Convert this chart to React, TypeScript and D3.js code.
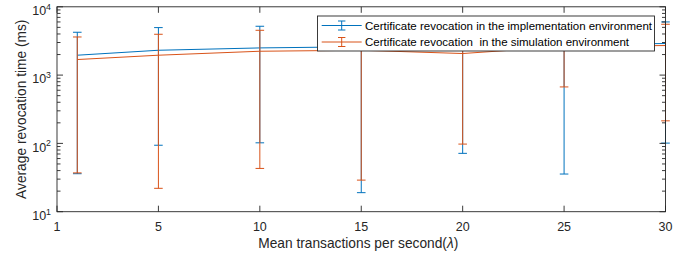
import React from "react";
import * as d3 from "d3";

const xValues = [1, 5, 10, 15, 20, 25, 30];
const xTickValues = [0, 5, 10, 15, 20, 25, 30];
const xTickLabels = ["1", "5", "10", "15", "20", "25", "30"];
const yTickExponents = [1, 2, 3, 4];

const implMean = [1955, 2310, 2500, 2600, 2750, 2800, 2900];
const implLower = [36, 94, 102, 19, 71.5, 35.6, 101];
const implUpper = [4240, 4960, 5190, 4800, 4600, 5000, 6000];

const simMean = [1690, 1955, 2235, 2310, 2070, 2620, 2710];
const simLower = [37, 22, 43, 29, 97.7, 671, 214];
const simUpper = [3615, 3960, 4530, 4400, 4000, 4500, 5550];

const seriesNames = [
  "Certificate revocation in the implementation environment",
  "Certificate revocation  in the simulation environment",
];
const colors = ["#0072BD", "#D95319"];

const W = 681;
const H = 257;
const left = 57;
const right = 665.5;
const top = 6.8;
const bottom = 211.7;
const axisColor = "#262626";
const font = "'Liberation Sans', Arial, Helvetica, sans-serif";

export default function App() {
  const x = d3.scaleLinear().domain([0, 30]).range([left, right]);
  const y = d3.scaleLog().domain([10, 10000]).range([bottom, top]);

  const series = [
    { mean: implMean, lo: implLower, hi: implUpper, color: colors[0] },
    { mean: simMean, lo: simLower, hi: simUpper, color: colors[1] },
  ];

  const line = d3
    .line<number>()
    .x((_, i) => x(xValues[i]))
    .y((d) => y(d));

  const minorTicks: number[] = [];
  for (let e = 1; e < 4; e++) {
    for (let m = 2; m <= 9; m++) minorTicks.push(m * Math.pow(10, e));
  }

  const capHalf = 4.3;
  const majorLen = 6;
  const minorLen = 3.5;

  const legX = 317.5;
  const legY = 16;
  const legW = 337;
  const legH = 35;
  const rowY = [25.5, 42];

  return (
    <div style={{ position: "absolute", left: 0, top: 0 }}>
      <svg width={W} height={H} style={{ display: "block", background: "#fff" }}>
        <rect x={0} y={0} width={W} height={H} fill="#fff" />
        {series.map((s, si) => (
          <g key={si}>
            <path d={line(s.mean) || ""} fill="none" stroke={s.color} strokeWidth={1} />
            {xValues.map((xv, i) => {
              const cx = x(xv);
              return (
                <g key={i} stroke={s.color} strokeWidth={1}>
                  <line x1={cx} x2={cx} y1={y(s.lo[i])} y2={y(s.hi[i])} />
                  <line x1={cx - capHalf} x2={cx + capHalf} y1={y(s.lo[i])} y2={y(s.lo[i])} />
                  <line x1={cx - capHalf} x2={cx + capHalf} y1={y(s.hi[i])} y2={y(s.hi[i])} />
                </g>
              );
            })}
          </g>
        ))}

        {/* axes box */}
        <rect x={left} y={top} width={right - left} height={bottom - top} fill="none" stroke={axisColor} strokeWidth={0.9} />

        {/* x ticks */}
        {xTickValues.map((t, i) => (
          <g key={i}>
            <line x1={x(t)} x2={x(t)} y1={bottom} y2={bottom - majorLen} stroke={axisColor} strokeWidth={0.9} />
            <line x1={x(t)} x2={x(t)} y1={top} y2={top + majorLen} stroke={axisColor} strokeWidth={0.9} />
            <text x={x(t)} y={231} textAnchor="middle" fontFamily={font} fontSize={12.5} fill={axisColor}>
              {xTickLabels[i]}
            </text>
          </g>
        ))}

        {/* y ticks */}
        {yTickExponents.map((e) => {
          const yy = y(Math.pow(10, e));
          return (
            <g key={e}>
              <line x1={left} x2={left + majorLen} y1={yy} y2={yy} stroke={axisColor} strokeWidth={0.9} />
              <line x1={right} x2={right - majorLen} y1={yy} y2={yy} stroke={axisColor} strokeWidth={0.9} />
              <text x={51} y={yy + 8.3} textAnchor="end" fontFamily={font} fontSize={12.5} fill={axisColor}>
                10
                <tspan fontSize={8.8} dy={-5.4}>{String(e)}</tspan>
              </text>
            </g>
          );
        })}
        {minorTicks.map((t, i) => (
          <g key={i}>
            <line x1={left} x2={left + minorLen} y1={y(t)} y2={y(t)} stroke={axisColor} strokeWidth={0.9} />
            <line x1={right} x2={right - minorLen} y1={y(t)} y2={y(t)} stroke={axisColor} strokeWidth={0.9} />
          </g>
        ))}

        {/* axis labels */}
        <text x={(left + right) / 2 - 3} y={248} textAnchor="middle" fontFamily={font} fontSize={13.75} fill={axisColor}>
          Mean transactions per second(<tspan fontStyle="italic">λ</tspan>)
        </text>
        <text
          transform={`translate(26, ${(top + bottom) / 2}) rotate(-90)`}
          textAnchor="middle"
          fontFamily={font}
          fontSize={13.75}
          fill={axisColor}
        >
          Average revocation time (ms)
        </text>

        {/* legend */}
        <rect x={legX} y={legY} width={legW} height={legH} fill="#fff" stroke={axisColor} strokeWidth={0.9} />
        {seriesNames.map((name, i) => {
          const ry = rowY[i];
          const lx1 = 321.7;
          const lx2 = 361.7;
          const cx = (lx1 + lx2) / 2;
          return (
            <g key={i}>
              <g stroke={colors[i]} strokeWidth={1}>
                <line x1={lx1} x2={lx2} y1={ry} y2={ry} />
                <line x1={cx} x2={cx} y1={ry - 4.5} y2={ry + 4.5} />
                <line x1={cx - 3.7} x2={cx + 3.7} y1={ry - 4.5} y2={ry - 4.5} />
                <line x1={cx - 3.7} x2={cx + 3.7} y1={ry + 4.5} y2={ry + 4.5} />
              </g>
              <text x={365} y={ry + 4} fontFamily={font} fontSize={11.5} fill="#000" style={{ whiteSpace: "pre" }}>
                {name}
              </text>
            </g>
          );
        })}
      </svg>
    </div>
  );
}
